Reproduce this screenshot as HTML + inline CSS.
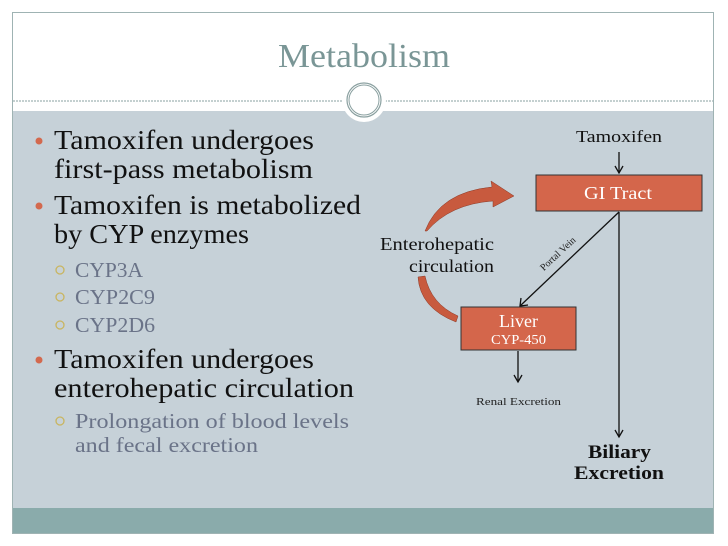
<!DOCTYPE html>
<html><head><style>
body{margin:0;background:#fff;}
svg{display:block;font-family:"Liberation Serif",serif;}
</style></head><body>
<svg width="728" height="546" viewBox="0 0 728 546">
<rect x="0" y="0" width="728" height="546" fill="#fff"/>
<rect x="12" y="111" width="702" height="398" fill="#c6d1d8"/>
<rect x="12" y="508" width="702" height="25" fill="#8aabab"/>
<rect x="12.5" y="12.5" width="701" height="521" fill="none" stroke="#9fb3b3" stroke-width="1"/>
<line x1="13" y1="101" x2="713" y2="101" stroke="#8aa0a0" stroke-width="1" stroke-dasharray="2,1"/>
<circle cx="364" cy="100" r="22" fill="#fff"/>
<circle cx="364" cy="100" r="17" fill="none" stroke="#8aa0a0" stroke-width="1.2"/>
<circle cx="364" cy="100" r="15" fill="none" stroke="#8aa0a0" stroke-width="1"/>
<text x="278" y="67" textLength="172" lengthAdjust="spacingAndGlyphs" font-size="34" fill="#7a9696">Metabolism</text>

<g font-size="27" fill="#111">
<circle cx="39" cy="141" r="3.5" fill="#d3694e"/>
<text x="54" y="149" textLength="260" lengthAdjust="spacingAndGlyphs">Tamoxifen undergoes</text>
<text x="54" y="178" textLength="259" lengthAdjust="spacingAndGlyphs">first-pass metabolism</text>
<circle cx="39" cy="206" r="3.5" fill="#d3694e"/>
<text x="54" y="214" textLength="307" lengthAdjust="spacingAndGlyphs">Tamoxifen is metabolized</text>
<text x="54" y="243" textLength="195" lengthAdjust="spacingAndGlyphs">by CYP enzymes</text>
<circle cx="39" cy="360" r="3.5" fill="#d3694e"/>
<text x="54" y="368" textLength="260" lengthAdjust="spacingAndGlyphs">Tamoxifen undergoes</text>
<text x="54" y="397" textLength="300" lengthAdjust="spacingAndGlyphs">enterohepatic circulation</text>
</g>
<g font-size="21" fill="#6a7388">
<text x="75" y="277" textLength="68" lengthAdjust="spacingAndGlyphs">CYP3A</text>
<text x="75" y="304" textLength="80" lengthAdjust="spacingAndGlyphs">CYP2C9</text>
<text x="75" y="332" textLength="80" lengthAdjust="spacingAndGlyphs">CYP2D6</text>
<text x="75" y="428" textLength="274" lengthAdjust="spacingAndGlyphs">Prolongation of blood levels</text>
<text x="75" y="452" textLength="183" lengthAdjust="spacingAndGlyphs">and fecal excretion</text>
</g>
<g fill="none" stroke="#c9b560" stroke-width="1.3">
<circle cx="60" cy="270" r="4"/>
<circle cx="60" cy="297" r="4"/>
<circle cx="60" cy="325" r="4"/>
<circle cx="60" cy="421" r="4"/>
</g>

<text x="576" y="142" textLength="86" lengthAdjust="spacingAndGlyphs" font-size="17" fill="#111">Tamoxifen</text>
<g stroke="#111" stroke-width="1.3" fill="none">
<line x1="619" y1="152" x2="619" y2="173"/>
<polyline points="615,166 619,173 623,166"/>
<line x1="619" y1="212" x2="619" y2="437"/>
<polyline points="615,430 619,437 623,430"/>
<line x1="619" y1="212" x2="520" y2="306"/>
<polyline points="521,298 520,306 528,305"/>
<line x1="518" y1="351" x2="518" y2="382"/>
<polyline points="514,375 518,382 522,375"/>
</g>
<rect x="536" y="175" width="166" height="36" fill="#d4664b" stroke="#333" stroke-width="1"/>
<text x="584" y="199" textLength="68" lengthAdjust="spacingAndGlyphs" font-size="18" fill="#fff">GI Tract</text>
<rect x="461" y="307" width="115" height="43" fill="#d4664b" stroke="#333" stroke-width="1"/>
<text x="499" y="327" textLength="39" lengthAdjust="spacingAndGlyphs" font-size="18" fill="#fff">Liver</text>
<text x="491" y="344" textLength="55" lengthAdjust="spacingAndGlyphs" font-size="14" fill="#fff">CYP-450</text>
<text x="560" y="256" text-anchor="middle" font-size="10" fill="#222" transform="rotate(-43 560 256)">Portal Vein</text>
<text x="476" y="405" textLength="85" lengthAdjust="spacingAndGlyphs" font-size="11" fill="#222">Renal Excretion</text>
<text x="588" y="458" textLength="63" lengthAdjust="spacingAndGlyphs" font-size="19" font-weight="bold" fill="#111">Biliary</text>
<text x="574" y="479" textLength="90" lengthAdjust="spacingAndGlyphs" font-size="19" font-weight="bold" fill="#111">Excretion</text>
<text x="380" y="250" textLength="114" lengthAdjust="spacingAndGlyphs" font-size="18" fill="#111">Enterohepatic</text>
<text x="409" y="272" textLength="85" lengthAdjust="spacingAndGlyphs" font-size="18" fill="#111">circulation</text>
<path d="M425,231 Q440,192 492,187 L491,181 L514,196 L493,207 L493,201 Q450,204 427,231 Z" fill="#c85a3e" stroke="#8a3a28" stroke-width="0.5"/>
<path d="M418,277 Q420,308 456,322 L458,316 Q431,304 425,276 Z" fill="#c85a3e" stroke="#8a3a28" stroke-width="0.5"/>
</svg>
</body></html>
